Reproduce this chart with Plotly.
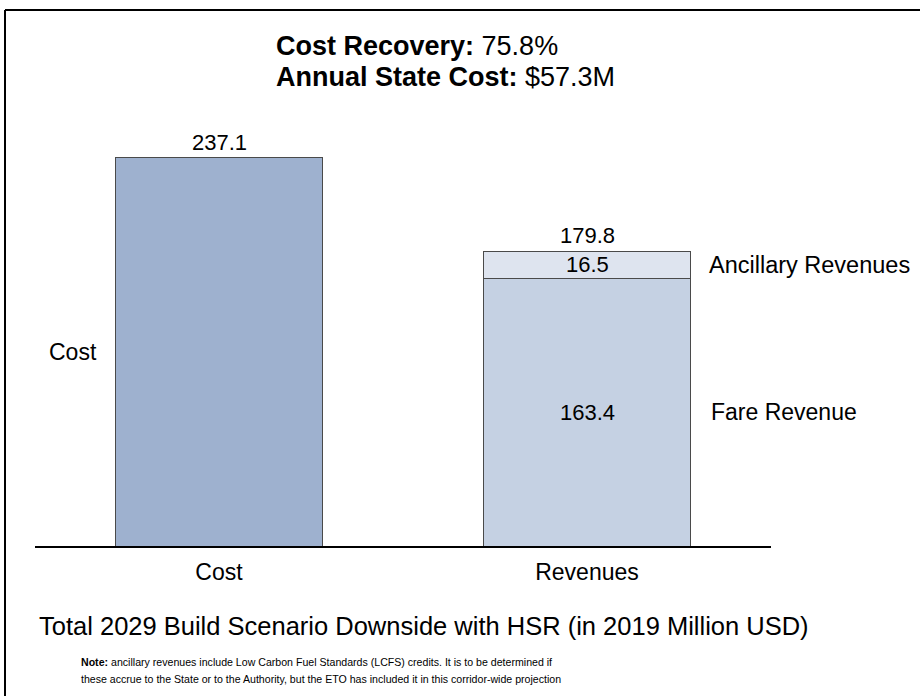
import plotly.graph_objects as go

# ---- data ----
categories = ["Cost", "Revenues"]
cost_values = [237.1, None]
fare_values = [None, 163.4]
ancillary_values = [None, 16.5]
revenue_total = 179.8
series_names = ["Cost", "Fare Revenue", "Ancillary Revenues"]
header_lines = [("Cost Recovery:", "75.8%"), ("Annual State Cost:", "$57.3M")]
chart_title = "Total 2029 Build Scenario Downside with HSR (in 2019 Million USD)"
note_lines = [
    "<b>Note:</b> ancillary revenues include Low Carbon Fuel Standards (LCFS) credits. It is to be determined if",
    "these accrue to the State or to the Authority, but the ETO has included it in this corridor-wide projection",
]

# ---- layout geometry (pixels) ----
W, H = 920, 696
L, R, T, B = 35, 149, 120, 150
PW = W - L - R
PH = H - T - B
FONT = "Liberation Sans, Arial, sans-serif"

def px_x(x):
    return (x - L) / PW

def px_y(y):
    return (H - B - y) / PH

fig = go.Figure()
line_style = dict(color="#4a4a4a", width=1)
fig.add_bar(x=categories, y=cost_values, name=series_names[0], width=0.56,
            marker=dict(color="#9EB1CF", line=line_style))
fig.add_bar(x=categories, y=fare_values, name=series_names[1], width=0.56,
            marker=dict(color="#C5D1E3", line=line_style))
fig.add_bar(x=categories, y=ancillary_values, name=series_names[2], width=0.56,
            marker=dict(color="#DEE4EF", line=line_style))

ann = []
val_font = dict(family=FONT, size=22, color="black")
lab_font = dict(family=FONT, size=23, color="black")
# value labels
ann.append(dict(x=categories[0], y=cost_values[0], text=f"{cost_values[0]:.1f}",
                showarrow=False, yanchor="bottom", yshift=1, font=val_font))
ann.append(dict(x=categories[1], y=revenue_total, text=f"{revenue_total:.1f}",
                showarrow=False, yanchor="bottom", yshift=1, font=val_font))
ann.append(dict(x=categories[1], y=fare_values[1] + ancillary_values[1] / 2,
                text=f"{ancillary_values[1]:.1f}", showarrow=False, font=val_font))
ann.append(dict(x=categories[1], y=fare_values[1] / 2, text=f"{fare_values[1]:.1f}",
                showarrow=False, font=val_font))
# series labels
ann.append(dict(x=categories[0], y=cost_values[0] / 2, text=series_names[0],
                showarrow=False, xanchor="right", xshift=-120, font=lab_font))
ann.append(dict(x=categories[1], y=fare_values[1] + ancillary_values[1] / 2,
                text=series_names[2], showarrow=False, xanchor="left", xshift=120,
                font=dict(family=FONT, size=23.5, color="black")))
ann.append(dict(x=categories[1], y=fare_values[1] / 2, text=series_names[1],
                showarrow=False, xanchor="left", xshift=122, font=lab_font))
# header
for (b, v), ypx in zip(header_lines, [46, 77]):
    ann.append(dict(xref="paper", yref="paper", x=px_x(274), y=px_y(ypx),
                    xanchor="left", yanchor="middle", showarrow=False,
                    text=f"<b>{b}</b> {v}", font=dict(family=FONT, size=27, color="black")))
# title
ann.append(dict(xref="paper", yref="paper", x=px_x(424), y=px_y(626), xanchor="center",
                yanchor="middle", showarrow=False, text=chart_title,
                font=dict(family=FONT, size=25.5, color="black")))
# note
for line, ypx in zip(note_lines, [662, 679]):
    ann.append(dict(xref="paper", yref="paper", x=px_x(79), y=px_y(ypx), xanchor="left",
                    yanchor="middle", showarrow=False, text=line,
                    font=dict(family=FONT, size=10.6, color="black")))

border = dict(color="black", width=2)
fig.update_layout(
    width=W, height=H,
    margin=dict(l=L, r=R, t=T, b=B),
    barmode="stack",
    showlegend=False,
    plot_bgcolor="white", paper_bgcolor="white",
    font=dict(family=FONT, color="black"),
    annotations=ann,
    shapes=[
        dict(type="line", xref="paper", yref="paper", x0=px_x(5), x1=px_x(1000),
             y0=px_y(10), y1=px_y(10), line=border, layer="above"),
        dict(type="line", xref="paper", yref="paper", x0=px_x(5), x1=px_x(5),
             y0=px_y(10), y1=px_y(760), line=border, layer="above"),
    ],
)
fig.update_xaxes(range=[-0.5, 1.5], showline=True, linecolor="black", linewidth=2,
                 ticks="", showgrid=False, tickfont=dict(family=FONT, size=23, color="black"),
                 ticklabelstandoff=4)
fig.update_yaxes(range=[0, 260], visible=False, showgrid=False, zeroline=False)

fig.write_html("out.html")
